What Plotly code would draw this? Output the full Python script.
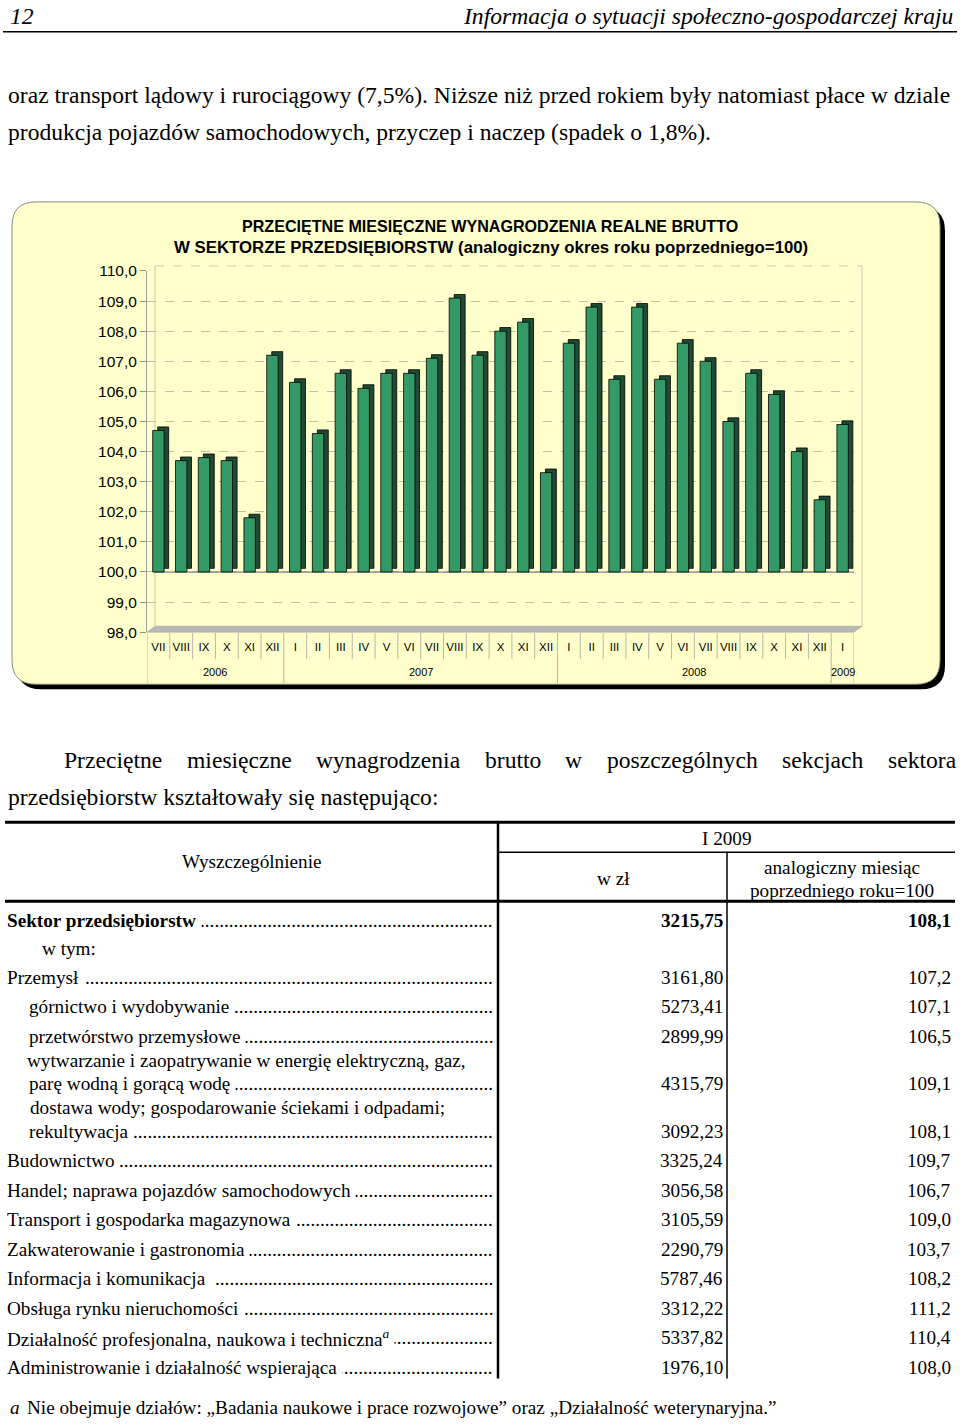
import plotly.graph_objects as go

W, H = 960, 1425
# zdjęcie strony: y_zdjęcia = 0.9875 * (y_strony + 9.3)
SY, OY = 0.9875, 9.3

# --- dane wykresu ---
years = ["2006"] * 6 + ["2007"] * 12 + ["2008"] * 12 + ["2009"]
months = ["VII", "VIII", "IX", "X", "XI", "XII",
          "I", "II", "III", "IV", "V", "VI", "VII", "VIII", "IX", "X", "XI", "XII",
          "I", "II", "III", "IV", "V", "VI", "VII", "VIII", "IX", "X", "XI", "XII",
          "I"]
values = [104.7, 103.7, 103.8, 103.7, 101.8, 107.2,
          106.3, 104.6, 106.6, 106.1, 106.6, 106.6, 107.1, 109.1, 107.2, 108.0, 108.3, 103.3,
          107.6, 108.8, 106.4, 108.8, 106.4, 107.6, 107.0, 105.0, 106.6, 105.9, 104.0, 102.4,
          104.9]
yticks = [98, 99, 100, 101, 102, 103, 104, 105, 106, 107, 108, 109, 110]

# --- dane tabeli ---
row_labels = ["Sektor przedsiębiorstw", "w tym:", "Przemysł", "górnictwo i wydobywanie",
              "przetwórstwo przemysłowe", "parę wodną i gorącą wodę", "rekultywacja",
              "Budownictwo", "Handel; naprawa pojazdów samochodowych", "Transport i gospodarka magazynowa",
              "Zakwaterowanie i gastronomia", "Informacja i komunikacja", "Obsługa rynku nieruchomości",
              "Działalność profesjonalna, naukowa i techniczna",
              "Administrowanie i działalność wspierająca"]
row_pln = ["3215,75", "", "3161,80", "5273,41", "2899,99", "4315,79", "3092,23", "3325,24",
           "3056,58", "3105,59", "2290,79", "5787,46", "3312,22", "5337,82", "1976,10"]
row_idx = ["108,1", "", "107,2", "107,1", "106,5", "109,1", "108,1", "109,7",
           "106,7", "109,0", "103,7", "108,2", "111,2", "110,4", "108,0"]
row_bold = [True] + [False] * 14
row_note = [False] * 13 + [True, False]
row_y = [920, 948, 977, 1006, 1036, 1083, 1131, 1160, 1190, 1219, 1249, 1278, 1308, 1337, 1367]
row_x = [6, 40, 6, 28, 28, 28, 28, 6, 6, 6, 6, 6, 6, 6, 6]
extra_lines = [("wytwarzanie i zaopatrywanie w energię elektryczną, gaz,", 25, 1060),
               ("dostawa wody; gospodarowanie ściekami i odpadami;", 28, 1107)]


# współrzędne w pikselach obrazka -> paper
def X(x):
    return x / W


def Y(y):
    return 1 - (y / SY - OY) / H


SERIF = "Liberation Serif"
SANS = "Liberation Sans"
TSIZE = 19.2
ann = []

# przybliżone szerokości znaków Times (w em) do wyliczenia kropek
CW = dict(a=.444, b=.5, c=.444, d=.5, e=.444, f=.333, g=.5, h=.5, i=.278, j=.278, k=.5, l=.278,
          m=.778, n=.5, o=.5, p=.5, q=.5, r=.333, s=.389, t=.278, u=.5, v=.5, w=.722, x=.5, y=.5, z=.444)
BASE = dict(ą="a", ę="e", ó="o", ś="s", ł="l", ń="n", ż="z", ź="z", ć="c")


def text_w(s, size, bold=False):
    w = 0
    for ch in s:
        c = BASE.get(ch, ch)
        if c in CW:
            w += CW[c]
        elif c.isupper():
            w += 0.68
        elif c == " ":
            w += 0.25
        else:
            w += 0.27
    return w * size * (1.06 if bold else 1.0)


def txt(s, x, y, size=TSIZE, anchor="left", font=SERIF, bg=None, color="black"):
    a = dict(text=s, x=X(x), y=Y(y), xref="paper", yref="paper", xanchor=anchor,
             yanchor="middle", showarrow=False, font=dict(family=font, size=size, color=color))
    if bg:
        a["bgcolor"] = bg
        a["borderpad"] = 0
    ann.append(a)


def rrect(x0, y0, x1, y1, r):
    return (f"M {X(x0+r)},{Y(y0)} L {X(x1-r)},{Y(y0)} Q {X(x1)},{Y(y0)} {X(x1)},{Y(y0+r)} "
            f"L {X(x1)},{Y(y1-r)} Q {X(x1)},{Y(y1)} {X(x1-r)},{Y(y1)} L {X(x0+r)},{Y(y1)} "
            f"Q {X(x0)},{Y(y1)} {X(x0)},{Y(y1-r)} L {X(x0)},{Y(y0+r)} Q {X(x0)},{Y(y0)} {X(x0+r)},{Y(y0)} Z")


pos = list(range(len(months)))
fig = go.Figure()

# bryła słupka (bok + wierzch)
fig.add_trace(go.Bar(x=pos, y=[v - 100 for v in values], base=100.12,
                     offset=-0.03, width=0.48, marker=dict(color="#1f4a33", line=dict(color="black", width=0.8)),
                     hoverinfo="skip", showlegend=False))
# przód słupka
fig.add_trace(go.Bar(x=pos, y=[v - 100 for v in values], base=100,
                     offset=-0.25, width=0.5, marker=dict(color="#339966", line=dict(color="black", width=0.8)),
                     customdata=values, hovertemplate="%{customdata:.1f}<extra></extra>", showlegend=False))

shapes = []
# ramka wykresu z cieniem
shapes.append(dict(type="path", path=rrect(17, 207, 945, 689, 24), xref="paper", yref="paper",
                   fillcolor="black", line=dict(width=0), layer="below"))
shapes.append(dict(type="path", path=rrect(12, 202, 940, 684, 24), xref="paper", yref="paper",
                   fillcolor="#ffffcc", line=dict(color="#8a8a7a", width=1), layer="below"))
# podłoga
shapes.append(dict(type="path", xref="paper", yref="paper", layer="below",
                   path=f"M {X(147)},{Y(632)} L {X(854)},{Y(632)} L {X(862)},{Y(626)} L {X(155)},{Y(626)} Z",
                   fillcolor="#b8b8b8", line=dict(color="#999999", width=0.5)))
# ściany
for x0, x1, y0, y1, dash in [(155, 155, 626, 266, "solid"), (862, 862, 626, 266, "solid"),
                             (155, 862, 266, 266, "dash")]:
    shapes.append(dict(type="line", xref="paper", yref="paper", layer="below",
                       x0=X(x0), x1=X(x1), y0=Y(y0), y1=Y(y1), line=dict(color="#c8c8b0", width=1, dash=dash)))
shapes.append(dict(type="line", xref="x domain", yref="y", layer="below",
                   x0=0.01, x1=1.0, y0=100, y1=100, line=dict(color="#a0a0a0", width=2)))

# separatory miesięcy i lat pod osią
for i in range(len(months) + 1):
    new_year = i == 0 or i == len(months) or years[i] != years[i - 1]
    shapes.append(dict(type="line", xref="x", yref="paper", x0=i - 0.5, x1=i - 0.5,
                       y0=Y(633), y1=Y(683 if new_year else 659), line=dict(color="#b8b8a8", width=1)))
# etykiety lat
for yr in dict.fromkeys(years):
    idx = [i for i, v in enumerate(years) if v == yr]
    ann.append(dict(text=yr, x=sum(idx) / len(idx), y=Y(672), xref="x", yref="paper",
                    xanchor="center", yanchor="middle", showarrow=False,
                    font=dict(family=SANS, size=11, color="black")))

# nagłówek strony
shapes.append(dict(type="line", xref="paper", yref="paper", x0=X(3), x1=X(957), y0=Y(32), y1=Y(32),
                   line=dict(color="black", width=1.5)))
# linie tabeli
for x0, x1, y0, y1, lw in [(5, 955, 822, 822, 3), (5, 955, 901, 901, 3), (499, 955, 852, 852, 1.5),
                           (498, 498, 822, 1378, 2.5), (727, 727, 852, 1378, 1.5)]:
    shapes.append(dict(type="line", xref="paper", yref="paper", x0=X(x0), x1=X(x1), y0=Y(y0), y1=Y(y1),
                       line=dict(color="black", width=lw)))

# teksty strony
txt("<i>12</i>", 8, 16, size=23.6)
txt("<i>Informacja o sytuacji społeczno-gospodarczej kraju</i>", 955, 16, size=23.6, anchor="right")
txt("oraz transport lądowy i rurociągowy (7,5%). Niższe niż przed rokiem były natomiast płace w dziale",
    6, 95, size=23.6)
txt("produkcja pojazdów samochodowych, przyczep i naczep (spadek o 1,8%).", 6, 132, size=23.6)

# tytuł wykresu
txt("<b>PRZECIĘTNE MIESIĘCZNE WYNAGRODZENIA REALNE BRUTTO</b>", 490, 226, size=16.1, anchor="center", font=SANS)
txt("<b>W SEKTORZE PRZEDSIĘBIORSTW (analogiczny okres roku poprzedniego=100)</b>", 491, 248, size=16.8,
    anchor="center", font=SANS)

# akapit przed tabelą (wyjustowany)
words = ["Przeciętne", "miesięczne", "wynagrodzenia", "brutto", "w", "poszczególnych", "sekcjach", "sektora"]
word_x = [62, 185, 314, 483, 563, 605, 780, 886]
for w_, wx in zip(words, word_x):
    txt(w_, wx, 760, size=23.6)
txt("przedsiębiorstw kształtowały się następująco:", 6, 797, size=23.6)

# nagłówek tabeli
txt("Wyszczególnienie", 251, 861, anchor="center")
txt("I 2009", 727, 838, anchor="center")
txt("w zł", 613, 878, anchor="center")
txt("analogiczny miesiąc", 842, 867, anchor="center")
txt("poprzedniego roku=100", 842, 890, anchor="center")

# wiersze tabeli
for s, x, y in extra_lines:
    txt(s, x, y)
for lab, pln, idx, y, x, b, note in zip(row_labels, row_pln, row_idx, row_y, row_x, row_bold, row_note):
    shown = f"<b>{lab}</b>" if b else lab
    if note:
        shown += "<sup><i>a</i></sup>"
    if pln:
        end = x + text_w(lab, TSIZE, b) + (6 if note else 0) + 4
        ndots = max(int((495 - end) / (0.25 * TSIZE)), 0)
        txt("." * ndots, 495, y, anchor="right")
        txt(shown + " ", x, y, bg="white")
        txt(f"<b>{pln}</b>" if b else pln, 725, y, anchor="right")
        txt(f"<b>{idx}</b>" if b else idx, 953, y, anchor="right")
    else:
        txt(shown, x, y)

# przypis
txt("<i>a</i>", 8, 1407)
txt("Nie obejmuje działów: „Badania naukowe i prace rozwojowe” oraz „Działalność weterynaryjna.”", 25, 1407)

fig.update_layout(
    width=W, height=H, margin=dict(l=0, r=0, t=0, b=0),
    paper_bgcolor="white", plot_bgcolor="rgba(0,0,0,0)",
    barmode="overlay", separators=",.",
    shapes=shapes, annotations=ann,
    xaxis=dict(domain=[X(147), X(854)], range=[-0.5, len(months) - 0.5],
               tickvals=pos, ticktext=months, tickangle=0,
               tickfont=dict(family=SANS, size=11.5, color="black"),
               ticks="", ticklabelstandoff=6,
               showline=False, showgrid=False, zeroline=False),
    yaxis=dict(domain=[Y(632), Y(271)], range=[98, 110], tickvals=yticks, tickformat=".1f",
               tickfont=dict(family=SANS, size=15.5, color="black"),
               ticks="outside", ticklen=6, tickcolor="#909090",
               showline=True, linecolor="#a0a0a0", linewidth=1,
               showgrid=True, gridcolor="#c0c0a8", griddash="dash", gridwidth=1,
               zeroline=False),
)

fig.write_html("out.html", config={"displayModeBar": False},
               post_script="document.body.style.margin='0';document.body.style.overflow='hidden';")
